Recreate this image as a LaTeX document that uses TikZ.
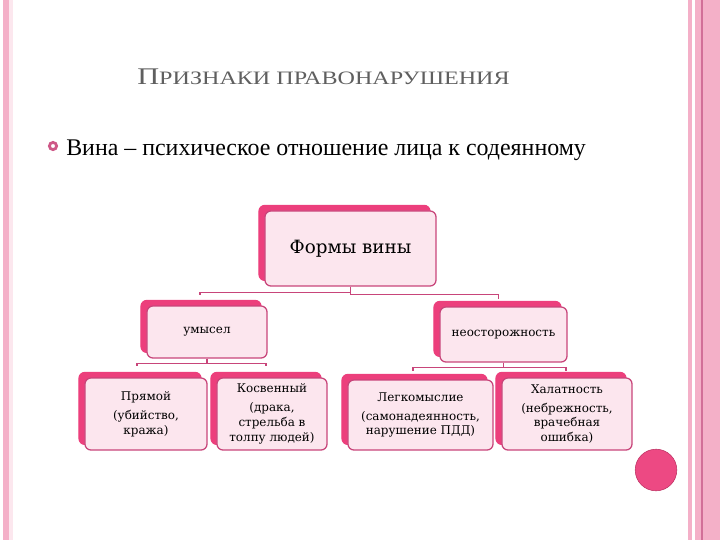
\documentclass[tikz,border=0pt]{standalone}
\usepackage{fontspec}
\setmainfont{Liberation Serif}
\newfontfamily\boxfont{DejaVu Serif}
\usetikzlibrary{calc,shadows}

\definecolor{hotpk}{HTML}{EC3F7C}
\definecolor{boxpk}{HTML}{FCE6EE}
\definecolor{edgepk}{HTML}{C8457A}
\definecolor{stripe}{HTML}{F4B0C8}
\definecolor{darkstripe}{HTML}{D26F98}
\definecolor{titlegray}{HTML}{5F5F5F}

\tikzset{
	formbox/.style={draw=edgepk, line width=0.9pt, fill=boxpk, rounded corners=0.15cm,
		inner sep=1pt, align=center, font=\boxfont\fontsize{8.5}{10.5}\selectfont,
		copy shadow={shadow xshift=-0.15cm, shadow yshift=0.14cm, fill=hotpk, draw=hotpk}},
	link/.style={draw=edgepk, line width=0.9pt}
}

\begin{document}
\begin{tikzpicture}[x=0.025cm, y=-0.025cm]
	\useasboundingbox (0,0) rectangle (720,540);
	% page frame
	\fill[stripe] (3,0) rectangle (9,540);
	\fill[stripe!30] (9,0) rectangle (13,540);
	\fill[stripe] (688,0) rectangle (692,540);
	\fill[stripe] (695,0) rectangle (701,540);
	\fill[darkstripe] (701,0) rectangle (703,540);
	\fill[stripe] (703,0) rectangle (720,540);

	\node[anchor=base west, inner sep=0, text=titlegray] (title) at (137,84)
		{\scalebox{1.27}[1]{\fontsize{17}{19}\selectfont П\fontsize{13.5}{15}\selectfont РИЗНАКИ ПРАВОНАРУШЕНИЯ}};
	\draw[edgepk!90, line width=2pt, fill=white] (53,146) circle (0.09cm);
	\node[anchor=base west, inner sep=0] (vina) at (66,155)
		{\fontsize{17}{20}\selectfont Вина – психическое отношение лица к содеянному};

	\node[formbox, minimum width=4.275cm, minimum height=1.875cm, font=\boxfont\fontsize{13}{15}\selectfont] (formy) at (350.5,248.5) {Формы вины};

	\node[formbox, minimum width=3cm, minimum height=1.3cm] (umysel) at (207,332) {умысел};
	\node[formbox, minimum width=3.175cm, minimum height=1.375cm] (neosto) at (503.5,334.5) {неосторожность};

	\node[formbox, minimum width=3.05cm, minimum height=1.8cm] (pryamoy) at (146,414) {Прямой\\[3pt](убийство,\\кража)};
	\node[formbox, minimum width=2.75cm, minimum height=1.8cm] (kosv) at (272,414) {Косвенный\\[3pt](драка,\\стрельба в\\толпу людей)};
	\node[formbox, minimum width=3.625cm, minimum height=1.75cm] (legk) at (420.5,415) {Легкомыслие\\[3pt](самонадеянность,\\нарушение ПДД)};
	\node[formbox, minimum width=3.25cm, minimum height=1.8cm] (halat) at (567,414) {Халатность\\[3pt](небрежность,\\врачебная\\ошибка)};

	\draw[link] (formy.south) -- ++(0,6) -| ($(umysel.north)+(-7,-10)$);
	\draw[link] (formy.south) -- ++(0,8) -| ($(neosto.north)+(-5,-7)$);
	\draw[link] (umysel.south) -- ++(0,5) -| ($(pryamoy.north)+(-9,-11)$);
	\draw[link] (umysel.south) -- ++(0,5) -| ($(kosv.north)+(-6,-11)$);
	\draw[link] (neosto.south) -- ++(0,5) -| ($(legk.north)+(-7.5,-8)$);
	\draw[link] (neosto.south) -- ++(0,5) -| ($(halat.north)+(-1,-6)$);

	\draw[fill=hotpk!95, draw=hotpk!80!black] (656,470) circle (0.52cm);
\end{tikzpicture}
\end{document}
